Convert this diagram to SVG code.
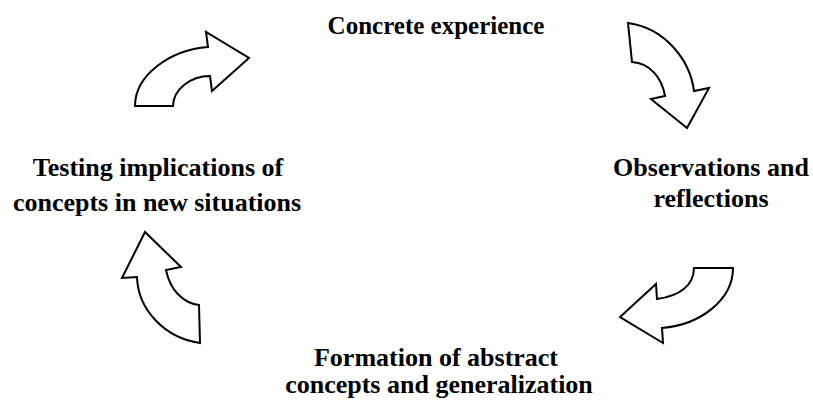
<svg xmlns="http://www.w3.org/2000/svg" width="813" height="400" viewBox="0 0 813 400">
<style>
.lbl{font-family:"Liberation Serif","Times New Roman",serif;font-weight:bold;font-size:26px;fill:#000;text-anchor:middle}
.arr{fill:#fff;stroke:#000;stroke-width:2;stroke-linejoin:miter}
</style>
<rect width="813" height="400" fill="#fff"/>
<g id="connectors">
<path class="arr" d="M135,106 C135,75 170,50 208,47 L206,32 L249,58 L212,91 L210,76 C190,76 173,90 173,106 Z"/>
<path class="arr" d="M628,23 C665,28 690,60 694,91 L709,88 L687,128 L651,99 L665,96 C662,78 650,63 632,62 Z"/>
<path class="arr" d="M733,268 C733,300 700,325 662,328 L663,343 L620,317 L656,284 L657,299 C680,296 694,285 694,268 Z"/>
<path class="arr" d="M145,232 L181,267 L166,270 C170,290 183,303 199,305 L200,343 C165,338 138,310 137,277 L122,278 Z"/>
</g>
<g id="concrete"><text class="lbl" x="436" y="34" style="font-size:25px">Concrete experience</text></g>
<g id="observations"><text class="lbl" x="711" y="176">Observations and</text><text class="lbl" x="711" y="207">reflections</text></g>
<g id="formation"><text class="lbl" x="436" y="366">Formation of abstract</text><text class="lbl" x="439" y="393">concepts and generalization</text></g>
<g id="testing"><text class="lbl" x="158" y="176">Testing implications of</text><text class="lbl" x="157" y="211">concepts in new situations</text></g>
</svg>
